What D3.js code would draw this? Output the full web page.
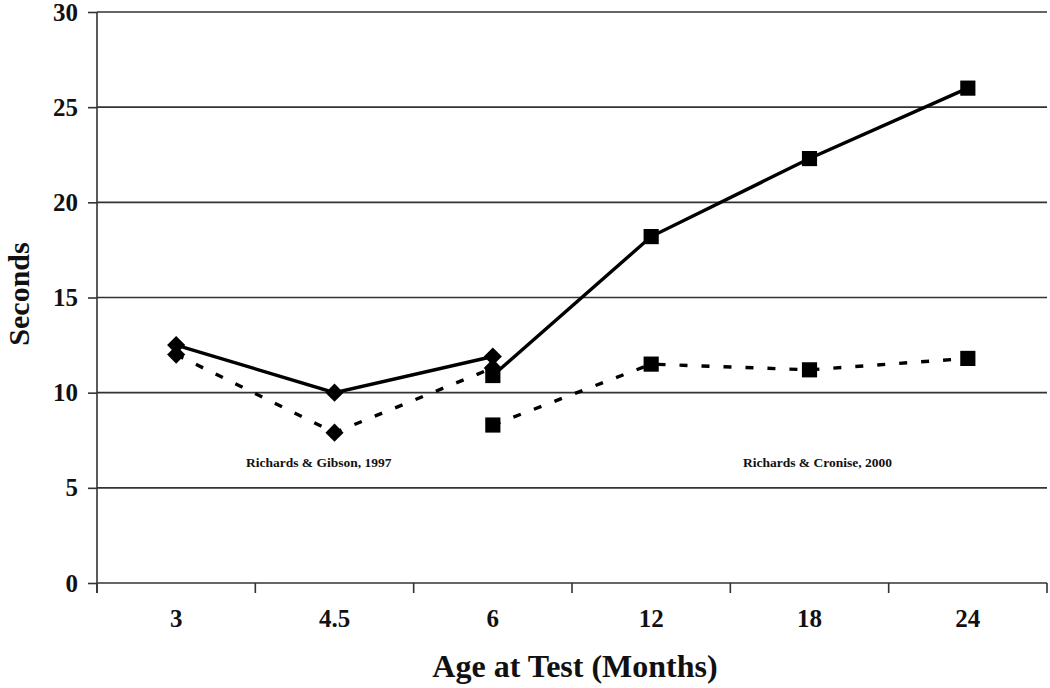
<!DOCTYPE html>
<html><head><meta charset="utf-8">
<script src="https://cdn.jsdelivr.net/npm/d3@7"></script>
<style>body{margin:0;background:#fff}svg{display:block}</style>
</head><body><svg id="c" width="1050" height="688"></svg>
<script>
const categories = ["3", "4.5", "6", "12", "18", "24"];
const gibsonSolid = [{x:"3", y:12.5}, {x:"4.5", y:10.0}, {x:"6", y:11.9}];
const gibsonDashed = [{x:"3", y:12.0}, {x:"4.5", y:7.9}, {x:"6", y:11.3}];
const croniseSolid = [{x:"6", y:10.9}, {x:"12", y:18.2}, {x:"18", y:22.3}, {x:"24", y:26.0}];
const croniseDashed = [{x:"6", y:8.3}, {x:"12", y:11.5}, {x:"18", y:11.2}, {x:"24", y:11.8}];
const yTicks = [0, 5, 10, 15, 20, 25, 30];
const annotations = [{text:"Richards & Gibson, 1997", cat:"4.5", dx:-0.1}, {text:"Richards & Cronise, 2000", cat:"18", dx:0.05}];

const svg = d3.select("#c");
const L = 97, R = 1047, T = 12, B = 583;
const x = d3.scaleBand().domain(categories).range([L, R]);
const y = d3.scaleLinear().domain([0, 30]).range([B, T]);
const font = "'Liberation Serif', 'Times New Roman', serif";

// gridlines
svg.append("g").selectAll("line").data(yTicks.filter(d => d > 0)).join("line")
  .attr("x1", L).attr("x2", R).attr("y1", d => y(d)).attr("y2", d => y(d))
  .attr("stroke", "#333").attr("stroke-width", 1.6);

// y axis
const ya = svg.append("g").attr("transform", `translate(${L},0)`)
  .call(d3.axisLeft(y).tickValues(yTicks).tickSize(9).tickPadding(10));
ya.select(".domain").remove();
ya.selectAll(".tick line").attr("stroke", "#333").attr("stroke-width", 1.6);
ya.selectAll("text").attr("font-family", font).attr("font-weight", "bold").attr("font-size", 25).attr("fill", "#111");
svg.append("line").attr("x1", L).attr("x2", L).attr("y1", T).attr("y2", B + 10)
  .attr("stroke", "#333").attr("stroke-width", 1.6);

// x axis
const xa = svg.append("g").attr("transform", `translate(0,${B})`)
  .call(d3.axisBottom(x).tickSize(0));
xa.select(".domain").remove();
xa.selectAll("text").attr("y", 44).attr("dy", 0)
  .attr("font-family", font).attr("font-weight", "bold").attr("font-size", 25).attr("fill", "#111");
svg.append("line").attr("x1", L).attr("x2", R).attr("y1", B).attr("y2", B)
  .attr("stroke", "#333").attr("stroke-width", 1.6);
const bounds = categories.map(c => x(c) + x.bandwidth()).concat([L]);
svg.append("g").selectAll("line").data(bounds).join("line")
  .attr("x1", d => d).attr("x2", d => d).attr("y1", B).attr("y2", B + 10)
  .attr("stroke", "#333").attr("stroke-width", 1.6);

const cx = d => x(d.x) + x.bandwidth() / 2;
const line = d3.line().x(cx).y(d => y(d.y));

function series(data, dashed, shape) {
  svg.append("path").datum(data).attr("d", line).attr("fill", "none")
    .attr("stroke", "#000").attr("stroke-width", 3.4)
    .attr("stroke-dasharray", dashed ? "8,14" : null);
  const sym = d3.symbol().type(shape === "square" ? d3.symbolSquare : d3.symbolDiamond2)
    .size(shape === "square" ? 230 : 210);
  svg.append("g").selectAll("path").data(data).join("path")
    .attr("transform", d => `translate(${cx(d)},${y(d.y)})`)
    .attr("d", sym).attr("fill", "#000");
}
series(gibsonDashed, true, "diamond");
series(croniseDashed, true, "square");
series(gibsonSolid, false, "diamond");
series(croniseSolid, false, "square");

// annotations
svg.append("g").selectAll("text").data(annotations).join("text")
  .attr("x", d => x(d.cat) + x.bandwidth() * (0.5 + d.dx)).attr("y", 467)
  .attr("text-anchor", "middle").attr("font-family", font).attr("font-weight", "bold")
  .attr("font-size", 13.5).attr("fill", "#111").text(d => d.text);

// axis titles
svg.append("text").attr("x", 575).attr("y", 677).attr("text-anchor", "middle")
  .attr("font-family", font).attr("font-weight", "bold").attr("font-size", 32).attr("fill", "#111")
  .text("Age at Test (Months)");
svg.append("text").attr("transform", `translate(29,294) rotate(-90)`).attr("text-anchor", "middle")
  .attr("font-family", font).attr("font-weight", "bold").attr("font-size", 30).attr("fill", "#111")
  .text("Seconds");
</script></body></html>
